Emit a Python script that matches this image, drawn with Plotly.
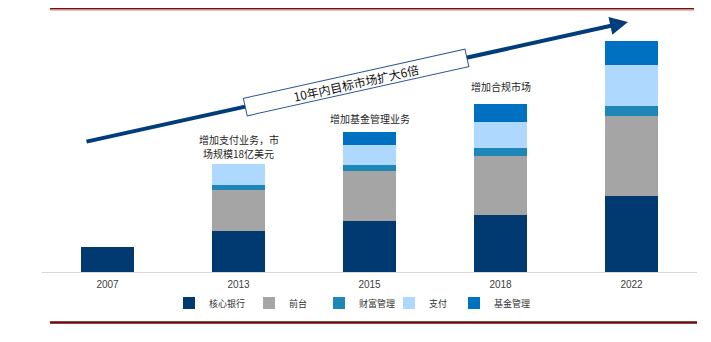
import plotly.graph_objects as go

years = ["2007", "2013", "2015", "2018", "2022"]
core_banking = [25.0, 40.7, 51.0, 57.3, 75.7]
front_office = [0, 41.0, 50.3, 58.7, 80.3]
wealth_mgmt = [0, 5.3, 5.7, 7.7, 10.0]
payments = [0, 21.0, 20.0, 26.6, 41.0]
fund_mgmt = [0, 0, 13.0, 17.7, 24.0]

series_names = ["核心银行", "前台", "财富管理", "支付", "基金管理"]
series_values = [core_banking, front_office, wealth_mgmt, payments, fund_mgmt]
series_colors = ["#003A70", "#A5A5A5", "#1F86B8", "#AED8FD", "#0070C0"]

callouts = [
    ("2013", 133, "增加支付业务，市"),
    ("2013", 119, "场规模18亿美元"),
    ("2015", 154, "增加基金管理业务"),
    ("2018", 186, "增加合规市场"),
]
arrow_label = "10年内目标市场扩大6倍"

W, H = 711, 342
L, R, T, B = 42, 14, 9, 70
pw, ph = W - L - R, H - T - B

def px(xp):
    return (xp - L) / pw

def py(yp):
    return (H - B - yp) / ph

legend_centers = [188, 268, 338, 408, 473]

fig = go.Figure()
legend_layouts = {}
for i, (name, vals, col) in enumerate(zip(series_names, series_values, series_colors)):
    lname = "legend" if i == 0 else f"legend{i + 1}"
    fig.add_trace(go.Bar(x=years, y=vals, name=name, legend=lname,
                         marker=dict(color=col, line=dict(width=0))))
    legend_layouts[lname] = dict(
        orientation="h", x=px(legend_centers[i] - 19), xanchor="left",
        y=py(303), yanchor="middle", itemwidth=30,
        font=dict(family="Noto Sans CJK SC", size=9, color="#333333"),
        bgcolor="rgba(0,0,0,0)")

annotations = [
    dict(xref="paper", yref="paper", x=px(628), y=py(22), ax=-543, ay=120,
         text="", showarrow=True, arrowhead=2, arrowsize=0.9, arrowwidth=4,
         arrowcolor="#003D7A", standoff=0),
    dict(xref="paper", yref="paper", x=px(356), y=py(82), text=arrow_label,
         showarrow=False, textangle=-12.5, width=224, height=15, borderpad=1,
         bordercolor="#2F5597", borderwidth=1, bgcolor="white",
         font=dict(family="Noto Sans CJK SC", size=12, color="#111111"),
         xanchor="center", yanchor="middle"),
]
for yr, yv, txt in callouts:
    annotations.append(dict(xref="x", yref="y", x=years.index(yr), y=yv, text=txt, showarrow=False,
                            font=dict(family="Noto Sans CJK SC", size=10, color="#262626"),
                            xanchor="center", yanchor="middle"))

shapes = [
    dict(type="line", xref="paper", yref="paper", x0=px(50), x1=px(694), y0=py(8.7), y1=py(8.7),
         line=dict(color="#7A0C0C", width=1.5)),
    dict(type="line", xref="paper", yref="paper", x0=px(50), x1=px(694), y0=py(10.3), y1=py(10.3),
         line=dict(color="#DDB0B0", width=1)),
    dict(type="line", xref="paper", yref="paper", x0=px(50), x1=px(697), y0=py(322.5), y1=py(322.5),
         line=dict(color="#6B0A0A", width=2.5)),
]

fig.update_layout(
    width=W, height=H,
    margin=dict(l=L, r=R, t=T, b=B),
    paper_bgcolor="white", plot_bgcolor="white",
    barmode="stack", bargap=0.595,
    xaxis=dict(type="category", range=[-0.5, 4.5], autorange=False,
               showline=True, linecolor="#D9D9D9", linewidth=1,
               showgrid=False, ticks="", ticklabelstandoff=3,
               tickfont=dict(family="Liberation Sans", size=10, color="#404040")),
    yaxis=dict(range=[0, ph], autorange=False, visible=False, showgrid=False),
    showlegend=True,
    annotations=annotations,
    shapes=shapes,
    **legend_layouts,
)

fig.write_html("out.html")
